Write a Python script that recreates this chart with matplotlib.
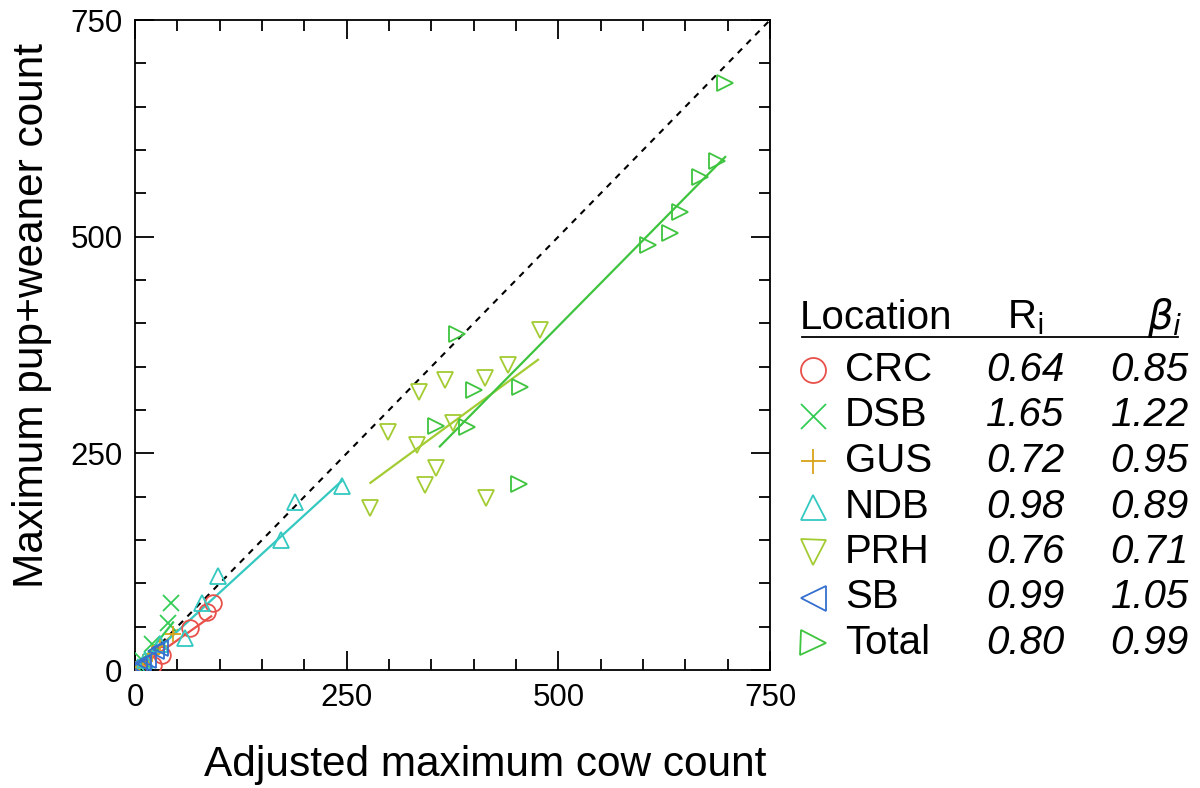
"""
Pup+weaner count against adjusted cow count, by location.
"""
import matplotlib
matplotlib.use('Agg')
import matplotlib.pyplot as plt
from matplotlib.lines import Line2D
from matplotlib.ticker import MultipleLocator

plt.rcParams['font.family'] = ['Liberation Sans', 'DejaVu Sans']

# data
locations = ['CRC', 'DSB', 'GUS', 'NDB', 'PRH', 'SB', 'Total']
R_vals = ['0.64', '1.65', '0.72', '0.98', '0.76', '0.99', '0.80']
beta_vals = ['0.85', '1.22', '0.95', '0.89', '0.71', '1.05', '0.99']

crc_x = [92, 85, 65, 32, 21, 8, 3]
crc_y = [77, 67, 48, 17, 6, 3, 1]
dsb_x = [42, 39, 20, 8, 2]
dsb_y = [77, 54, 30, 12, 3]
gus_x = [2, 5, 10, 20, 30, 45]
gus_y = [2, 4, 9, 18, 28, 42]
ndb_x = [244, 189, 173, 98, 79, 59, 30, 12, 3]
ndb_y = [212, 194, 150, 108, 77, 37, 30, 12, 4]
prh_x = [478, 441, 413, 366, 335, 376, 299, 333, 356, 343, 415, 278]
prh_y = [392, 352, 337, 335, 321, 285, 275, 260, 233, 214, 198, 187]
sb_x = [5, 10, 15, 25, 30]
sb_y = [3, 8, 12, 22, 25]
tot_x = [697, 687, 667, 644, 632, 606, 380, 400, 455, 356, 392, 453]
tot_y = [677, 587, 569, 529, 504, 490, 388, 323, 327, 281, 280, 215]

# fitted lines (end points)
crc_fit_x = [0, 90]
crc_fit_y = [0, 62]
dsb_fit_x = [0, 45]
dsb_fit_y = [0, 55]
gus_fit_x = [0, 50]
gus_fit_y = [0, 46]
ndb_fit_x = [0, 244]
ndb_fit_y = [0, 218]
prh_fit_x = [278, 476]
prh_fit_y = [216, 358]
sb_fit_x = [0, 32]
sb_fit_y = [0, 30]
tot_fit_x = [360, 697]
tot_fit_y = [258, 592]

colors = {'CRC': '#e8504a', 'DSB': '#33cc55', 'GUS': '#d9a31a',
          'NDB': '#33c9c0', 'PRH': '#a3cc33', 'SB': '#3570d0',
          'Total': '#3ec43e'}
markers = {'CRC': 'o', 'DSB': 'x', 'GUS': '+', 'NDB': '^',
           'PRH': 'v', 'SB': '<', 'Total': '>'}

series = {
    'CRC': (crc_x, crc_y, crc_fit_x, crc_fit_y),
    'DSB': (dsb_x, dsb_y, dsb_fit_x, dsb_fit_y),
    'GUS': (gus_x, gus_y, gus_fit_x, gus_fit_y),
    'NDB': (ndb_x, ndb_y, ndb_fit_x, ndb_fit_y),
    'PRH': (prh_x, prh_y, prh_fit_x, prh_fit_y),
    'SB': (sb_x, sb_y, sb_fit_x, sb_fit_y),
    'Total': (tot_x, tot_y, tot_fit_x, tot_fit_y),
}

fig = plt.figure(figsize=(12, 7.88), dpi=100)
ax = fig.add_axes([0.1125, 0.1497, 0.5292, 0.8249])

ax.plot([0, 750], [0, 750], color='black', ls=(0, (3, 3)), lw=1.5, zorder=1)

for name in locations:
    x, y, fx, fy = series[name]
    c = colors[name]
    ax.plot(fx, fy, color=c, lw=1.6, zorder=2)
    ax.plot(x, y, ls='none', marker=markers[name], ms=12, mfc='none',
            mec=c, mew=1.3, zorder=3)

ax.set_xlim(0, 750)
ax.set_ylim(0, 750)
ax.xaxis.set_major_locator(MultipleLocator(250))
ax.yaxis.set_major_locator(MultipleLocator(250))
ax.xaxis.set_minor_locator(MultipleLocator(50))
ax.yaxis.set_minor_locator(MultipleLocator(50))
ax.tick_params(which='both', direction='in', top=True, right=True,
               labelsize=22.5, width=1.3, pad=9)
ax.tick_params(which='major', length=14)
ax.tick_params(which='minor', length=8)
for s in ax.spines.values():
    s.set_linewidth(1.3)

ax.set_xlabel('Adjusted maximum cow count', fontsize=30.5)
ax.set_ylabel('Maximum pup+weaner count', fontsize=30.5)
ax.xaxis.set_label_coords(0.551, -0.116)
ax.yaxis.set_label_coords(-0.13, 0.545)

# table-style legend on the right
fs = 29
fig.text(800 / 1200, 1 - 318 / 788, 'Location', fontsize=fs, va='center')
fig.text(1044 / 1200, 1 - 318 / 788, r'R$_{\mathrm{i}}$', fontsize=fs,
         va='center', ha='right')
fig.text(1182 / 1200, 1 - 318 / 788, r'$\mathit{\beta}_{\mathit{i}}$',
         fontsize=fs, va='center', ha='right')
fig.add_artist(Line2D([802 / 1200, 1178 / 1200], [1 - 337 / 788] * 2,
                      color='black', lw=1.3, transform=fig.transFigure))

for i, name in enumerate(locations):
    yy = 1 - (370 + 45.5 * i) / 788
    fig.add_artist(Line2D([813 / 1200], [yy], ls='none', marker=markers[name],
                          ms=18, mfc='none', mec=colors[name], mew=1.3,
                          transform=fig.transFigure))
    fig.text(845 / 1200, yy, name, fontsize=fs, va='center')
    fig.text(1064 / 1200, yy, R_vals[i], fontsize=fs, va='center',
             ha='right', style='italic')
    fig.text(1189 / 1200, yy, beta_vals[i], fontsize=fs, va='center',
             ha='right', style='italic')

fig.savefig('out.png', dpi=100)
